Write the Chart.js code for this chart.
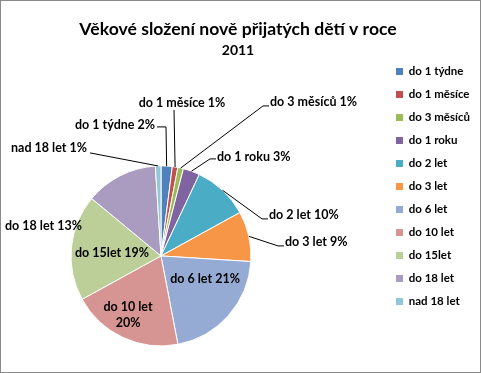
<!DOCTYPE html>
<html>
<head>
<meta charset="utf-8">
<script src="https://cdn.jsdelivr.net/npm/chart.js@4.4.0/dist/chart.umd.min.js"></script>
<style>
  html, body { margin: 0; padding: 0; background: #fff; }
  #frame { width: 481px; height: 373px; box-sizing: border-box; border: 1px solid #8a8a8a; }
  canvas { display: block; }
</style>
</head>
<body>
<div id="frame"><canvas id="chart" width="479" height="371"></canvas></div>
<script>
const categories = ['do 1 týdne', 'do 1 měsíce', 'do 3 měsíců', 'do 1 roku', 'do 2 let', 'do 3 let',
  'do 6 let', 'do 10 let', 'do 15let', 'do 18 let', 'nad 18 let']
const shares = [2, 1, 1, 3, 10, 9, 21, 20, 19, 13, 1]
const colors = ['#4f81bd', '#c0504d', '#9bbb59', '#8064a2', '#4bacc6', '#f79646',
  '#95abd3', '#d69492', '#bccf98', '#aa9cc0', '#93c6d8']

// where each data label sits, relative to the pie centre: [dx, dy, align, wrap]
const labelSpots = [
  [-6, -131, 'right'], [21, -153, 'center'], [109, -154, 'left'], [56, -99, 'left'],
  [108, -41, 'left'], [124, -14, 'left'], [44, 23, 'center'], [-33, 59, 'center', true],
  [-49, -3, 'center'], [-156, -30, 'left'], [-74, -108, 'right']
]
// leader line bend point relative to the pie centre and stub towards the text
const leaderBends = [
  [5, -129, -9], [13, -146, 0], [102, -150, 6], [49, -97, 6],
  [101, -37, 6], [117, -10, 6], null, null, null, null, [-71, -103, 0]
]

Chart.defaults.font.family = 'Lato'
Chart.defaults.color = '#000'

// keeps a gap between the pie and the legend
const legendGap = {
  id: 'legendGap',
  beforeInit (chart) {
    Chart.layouts.addBox(chart, {
      position: 'right',
      weight: 0,
      fullSize: false,
      options: {},
      isHorizontal () { return false },
      update (maxWidth, maxHeight) { this.width = 64; this.height = maxHeight },
      draw () {}
    })
  }
}

const sliceLabels = {
  id: 'sliceLabels',
  afterDatasetsDraw (chart) {
    const ctx = chart.ctx
    ctx.save()
    ctx.font = 'bold 12.5px Lato'
    ctx.fillStyle = '#000'
    ctx.strokeStyle = '#000'
    ctx.lineWidth = 1
    ctx.textBaseline = 'middle'
    chart.getDatasetMeta(0).data.forEach((arc, i) => {
      const p = arc.getProps(['x', 'y', 'startAngle', 'endAngle', 'outerRadius'], true)
      const [dx, dy, align, wrap] = labelSpots[i]
      const bend = leaderBends[i]
      if (bend) {
        const mid = (p.startAngle + p.endAngle) / 2
        ctx.beginPath()
        ctx.moveTo(p.x + Math.cos(mid) * p.outerRadius, p.y + Math.sin(mid) * p.outerRadius)
        ctx.lineTo(p.x + bend[0], p.y + bend[1])
        if (bend[2]) ctx.lineTo(p.x + bend[0] + bend[2], p.y + bend[1])
        ctx.stroke()
      }
      ctx.textAlign = align
      if (wrap) {
        ctx.fillText(categories[i], p.x + dx, p.y + dy - 8)
        ctx.fillText(shares[i] + '%', p.x + dx, p.y + dy + 8)
      } else {
        ctx.fillText(categories[i] + ' ' + shares[i] + '%', p.x + dx, p.y + dy)
      }
    })
    ctx.restore()
  }
}

function build () {
  const ctx = document.getElementById('chart').getContext('2d')

  const chart = new Chart(ctx, {
    type: 'pie',
    data: {
      labels: categories,
      datasets: [
        {
          data: shares,
          backgroundColor: colors,
          borderColor: '#ffffff',
          borderWidth: 1
        }
      ]
    },
    options: {
      responsive: false,
      animation: false,
      radius: 90,
      layout: {
        padding: { left: 0.5, right: 5.5, top: 0, bottom: 0 }
      },
      plugins: {
        title: {
          display: true,
          text: 'Věkové složení nově přijatých dětí v roce',
          font: { size: 17.6, weight: 'bold' },
          padding: { top: 17.5, bottom: 0 }
        },
        subtitle: {
          display: true,
          text: '2011',
          color: '#000',
          font: { size: 14, weight: 'bold' },
          padding: { top: 2, bottom: 81.4 }
        },
        legend: {
          position: 'right',
          maxWidth: 90,
          labels: {
            boxWidth: 7,
            boxHeight: 7,
            padding: 11.5,
            font: { size: 11.5, weight: 'bold' },
            generateLabels (chart) {
              return Chart.overrides.pie.plugins.legend.labels.generateLabels(chart)
                .map(item => Object.assign(item, { lineWidth: 0 }))
            }
          }
        },
        tooltip: { enabled: false }
      }
    },
    plugins: [legendGap, sliceLabels]
  })
}

build()
</script>
</body>
</html>
